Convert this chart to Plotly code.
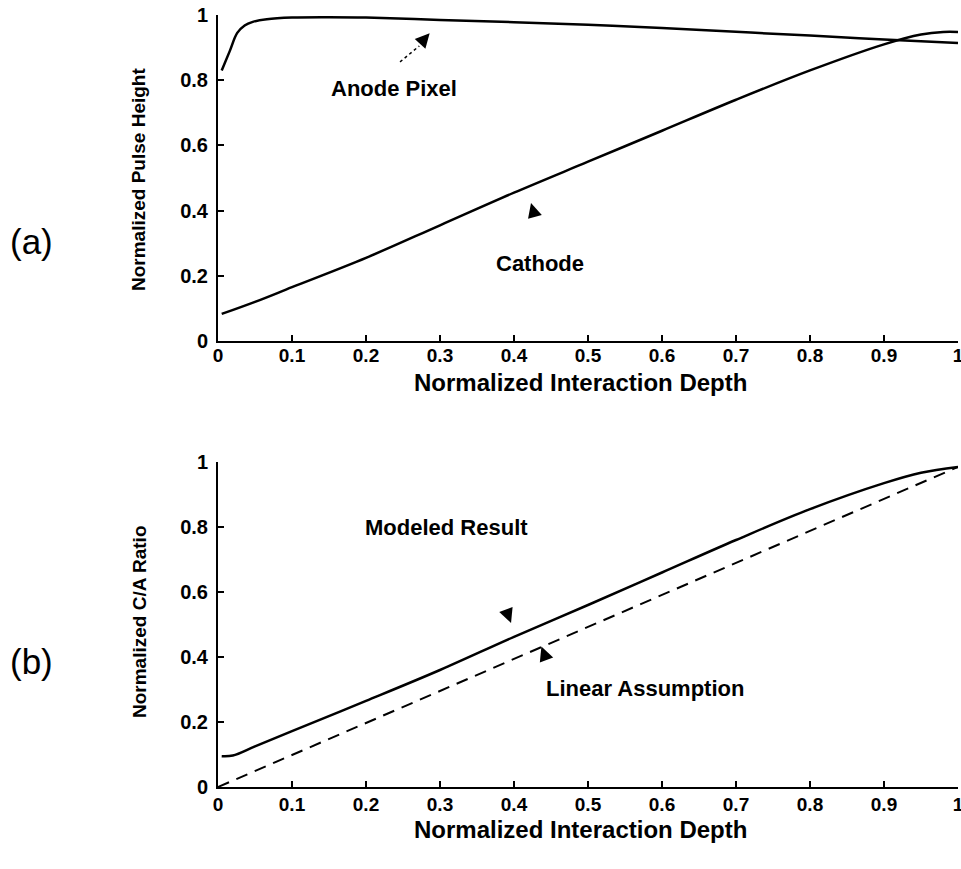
import plotly.graph_objects as go

# ---- data ----
depth_anode = [0.005, 0.016, 0.026, 0.036, 0.047, 0.066, 0.1, 0.15, 0.2, 0.3, 0.4, 0.5, 0.6, 0.72, 0.8, 0.9, 1.0]
anode_pixel = [0.83, 0.89, 0.945, 0.968, 0.979, 0.987, 0.992, 0.993, 0.992, 0.985, 0.978, 0.97, 0.96, 0.946, 0.937, 0.925, 0.914]

depth_cathode = [0.005, 0.05, 0.1, 0.2, 0.3, 0.4, 0.5, 0.6, 0.7, 0.8, 0.9, 0.95, 0.98, 1.0]
cathode = [0.083, 0.12, 0.165, 0.255, 0.355, 0.455, 0.55, 0.645, 0.74, 0.83, 0.91, 0.94, 0.948, 0.948]

depth_model = [0.005, 0.02, 0.05, 0.1, 0.2, 0.3, 0.4, 0.5, 0.6, 0.7, 0.8, 0.9, 0.95, 1.0]
modeled_ratio = [0.095, 0.097, 0.125, 0.172, 0.265, 0.36, 0.462, 0.56, 0.66, 0.76, 0.855, 0.935, 0.967, 0.985]

depth_linear = [0.0, 1.0]
linear_ratio = [0.0, 0.985]

x_ticks = [0, 0.1, 0.2, 0.3, 0.4, 0.5, 0.6, 0.7, 0.8, 0.9, 1]
x_ticktext = ["0", "0.1", "0.2", "0.3", "0.4", "0.5", "0.6", "0.7", "0.8", "0.9", "1"]
y_ticks = [0, 0.2, 0.4, 0.6, 0.8, 1]
y_ticktext = ["0", "0.2", "0.4", "0.6", "0.8", "1"]

W, H = 961, 869
FONT = "Liberation Sans"
XTICKFONT = dict(family=FONT, size=19, color="black", weight="bold")
YTICKFONT = dict(family=FONT, size=20, color="black", weight="bold")
LBLFONT = dict(family=FONT, size=22, color="black", weight="bold")
XTITLEFONT = dict(family=FONT, size=24, color="black", weight="bold")
YTITLEFONT = dict(family=FONT, size=19, color="black", weight="bold")

fig = go.Figure()
line_style = dict(color="black", width=2.5)
fig.add_trace(go.Scatter(x=depth_anode, y=anode_pixel, mode="lines", line=dict(**line_style, shape="spline"),
                         xaxis="x", yaxis="y", showlegend=False))
fig.add_trace(go.Scatter(x=depth_cathode, y=cathode, mode="lines", line=dict(**line_style, shape="spline"),
                         xaxis="x", yaxis="y", showlegend=False))
fig.add_trace(go.Scatter(x=depth_model, y=modeled_ratio, mode="lines", line=dict(**line_style, shape="spline"),
                         xaxis="x2", yaxis="y2", showlegend=False))
fig.add_trace(go.Scatter(x=depth_linear, y=linear_ratio, mode="lines",
                         line=dict(color="black", width=2, dash="12px,8px"),
                         xaxis="x2", yaxis="y2", showlegend=False))

xdom = [218 / W, 958 / W]
ydom_top = [1 - 341 / H, 1 - 15 / H]
ydom_bot = [1 - 787 / H, 1 - 462 / H]

axis_common = dict(range=[0, 1], showline=True, linecolor="black", linewidth=2,
                   ticks="inside", ticklen=6, tickwidth=1.5, tickcolor="black",
                   showgrid=False, zeroline=False, fixedrange=True,
                   ticklabeloverflow="allow", automargin=False)

fig.update_layout(
    width=W, height=H,
    margin=dict(l=0, r=0, t=0, b=0, autoexpand=False),
    paper_bgcolor="white", plot_bgcolor="white",
    xaxis=dict(domain=xdom, anchor="y", tickvals=x_ticks, ticktext=x_ticktext,
               tickfont=XTICKFONT, ticklabelstandoff=-4, **axis_common),
    yaxis=dict(domain=ydom_top, anchor="x", tickvals=y_ticks, ticktext=y_ticktext,
               tickfont=YTICKFONT, ticklabelstandoff=4, **axis_common),
    xaxis2=dict(domain=xdom, anchor="y2", tickvals=x_ticks, ticktext=x_ticktext,
                tickfont=XTICKFONT, ticklabelstandoff=-1, **axis_common),
    yaxis2=dict(domain=ydom_bot, anchor="x2", tickvals=y_ticks, ticktext=y_ticktext,
                tickfont=YTICKFONT, ticklabelstandoff=4, **axis_common),
)

def paper_text(text, px, py, font, angle=0):
    return dict(text=text, xref="paper", yref="paper", x=px / W, y=1 - py / H,
                xanchor="center", yanchor="middle", showarrow=False, textangle=angle, font=font)

ann = []
# axis titles
ann.append(paper_text("Normalized Interaction Depth", 580, 382, XTITLEFONT))
ann.append(paper_text("Normalized Interaction Depth", 580, 829, XTITLEFONT))
ann.append(paper_text("Normalized Pulse Height", 139, 180, YTITLEFONT, -90))
ann.append(paper_text("Normalized C/A Ratio", 139, 622, YTITLEFONT, -90))
ann.append(paper_text("(a)", 31, 241, dict(family=FONT, size=35, color="black")))
ann.append(paper_text("(b)", 31, 661, dict(family=FONT, size=35, color="black")))

# curve labels
def data_text(text, xr, yr, x, y):
    return dict(text=text, xref=xr, yref=yr, x=x, y=y, xanchor="center", yanchor="middle",
                showarrow=False, font=LBLFONT)

ann.append(data_text("Anode Pixel", "x", "y", 0.238, 0.776))
ann.append(data_text("Cathode", "x", "y", 0.435, 0.239))
ann.append(data_text("Modeled Result", "x2", "y2", 0.309, 0.80))
ann.append(data_text("Linear Assumption", "x2", "y2", 0.577, 0.302))

# arrows
def arrow(xr, yr, x, y, ax, ay):
    return dict(text="", xref=xr, yref=yr, x=x, y=y, ax=ax, ay=ay, showarrow=True,
                arrowhead=2, arrowsize=1.3, arrowwidth=2.2, arrowcolor="black")

ann.append(arrow("x", "y", 0.286, 0.944, -9, 10))
ann.append(arrow("x", "y", 0.423, 0.423, 4, 14))
ann.append(arrow("x2", "y2", 0.396, 0.505, -5, -13))
ann.append(arrow("x2", "y2", 0.437, 0.432, 5, 13))

fig.update_layout(annotations=ann)

# dotted shaft of the Anode Pixel arrow
fig.add_shape(type="line", xref="x", yref="y", x0=0.246, y0=0.856, x1=0.272, y1=0.905,
              line=dict(color="black", width=1.5, dash="dot"))

fig.write_html("out.html")
